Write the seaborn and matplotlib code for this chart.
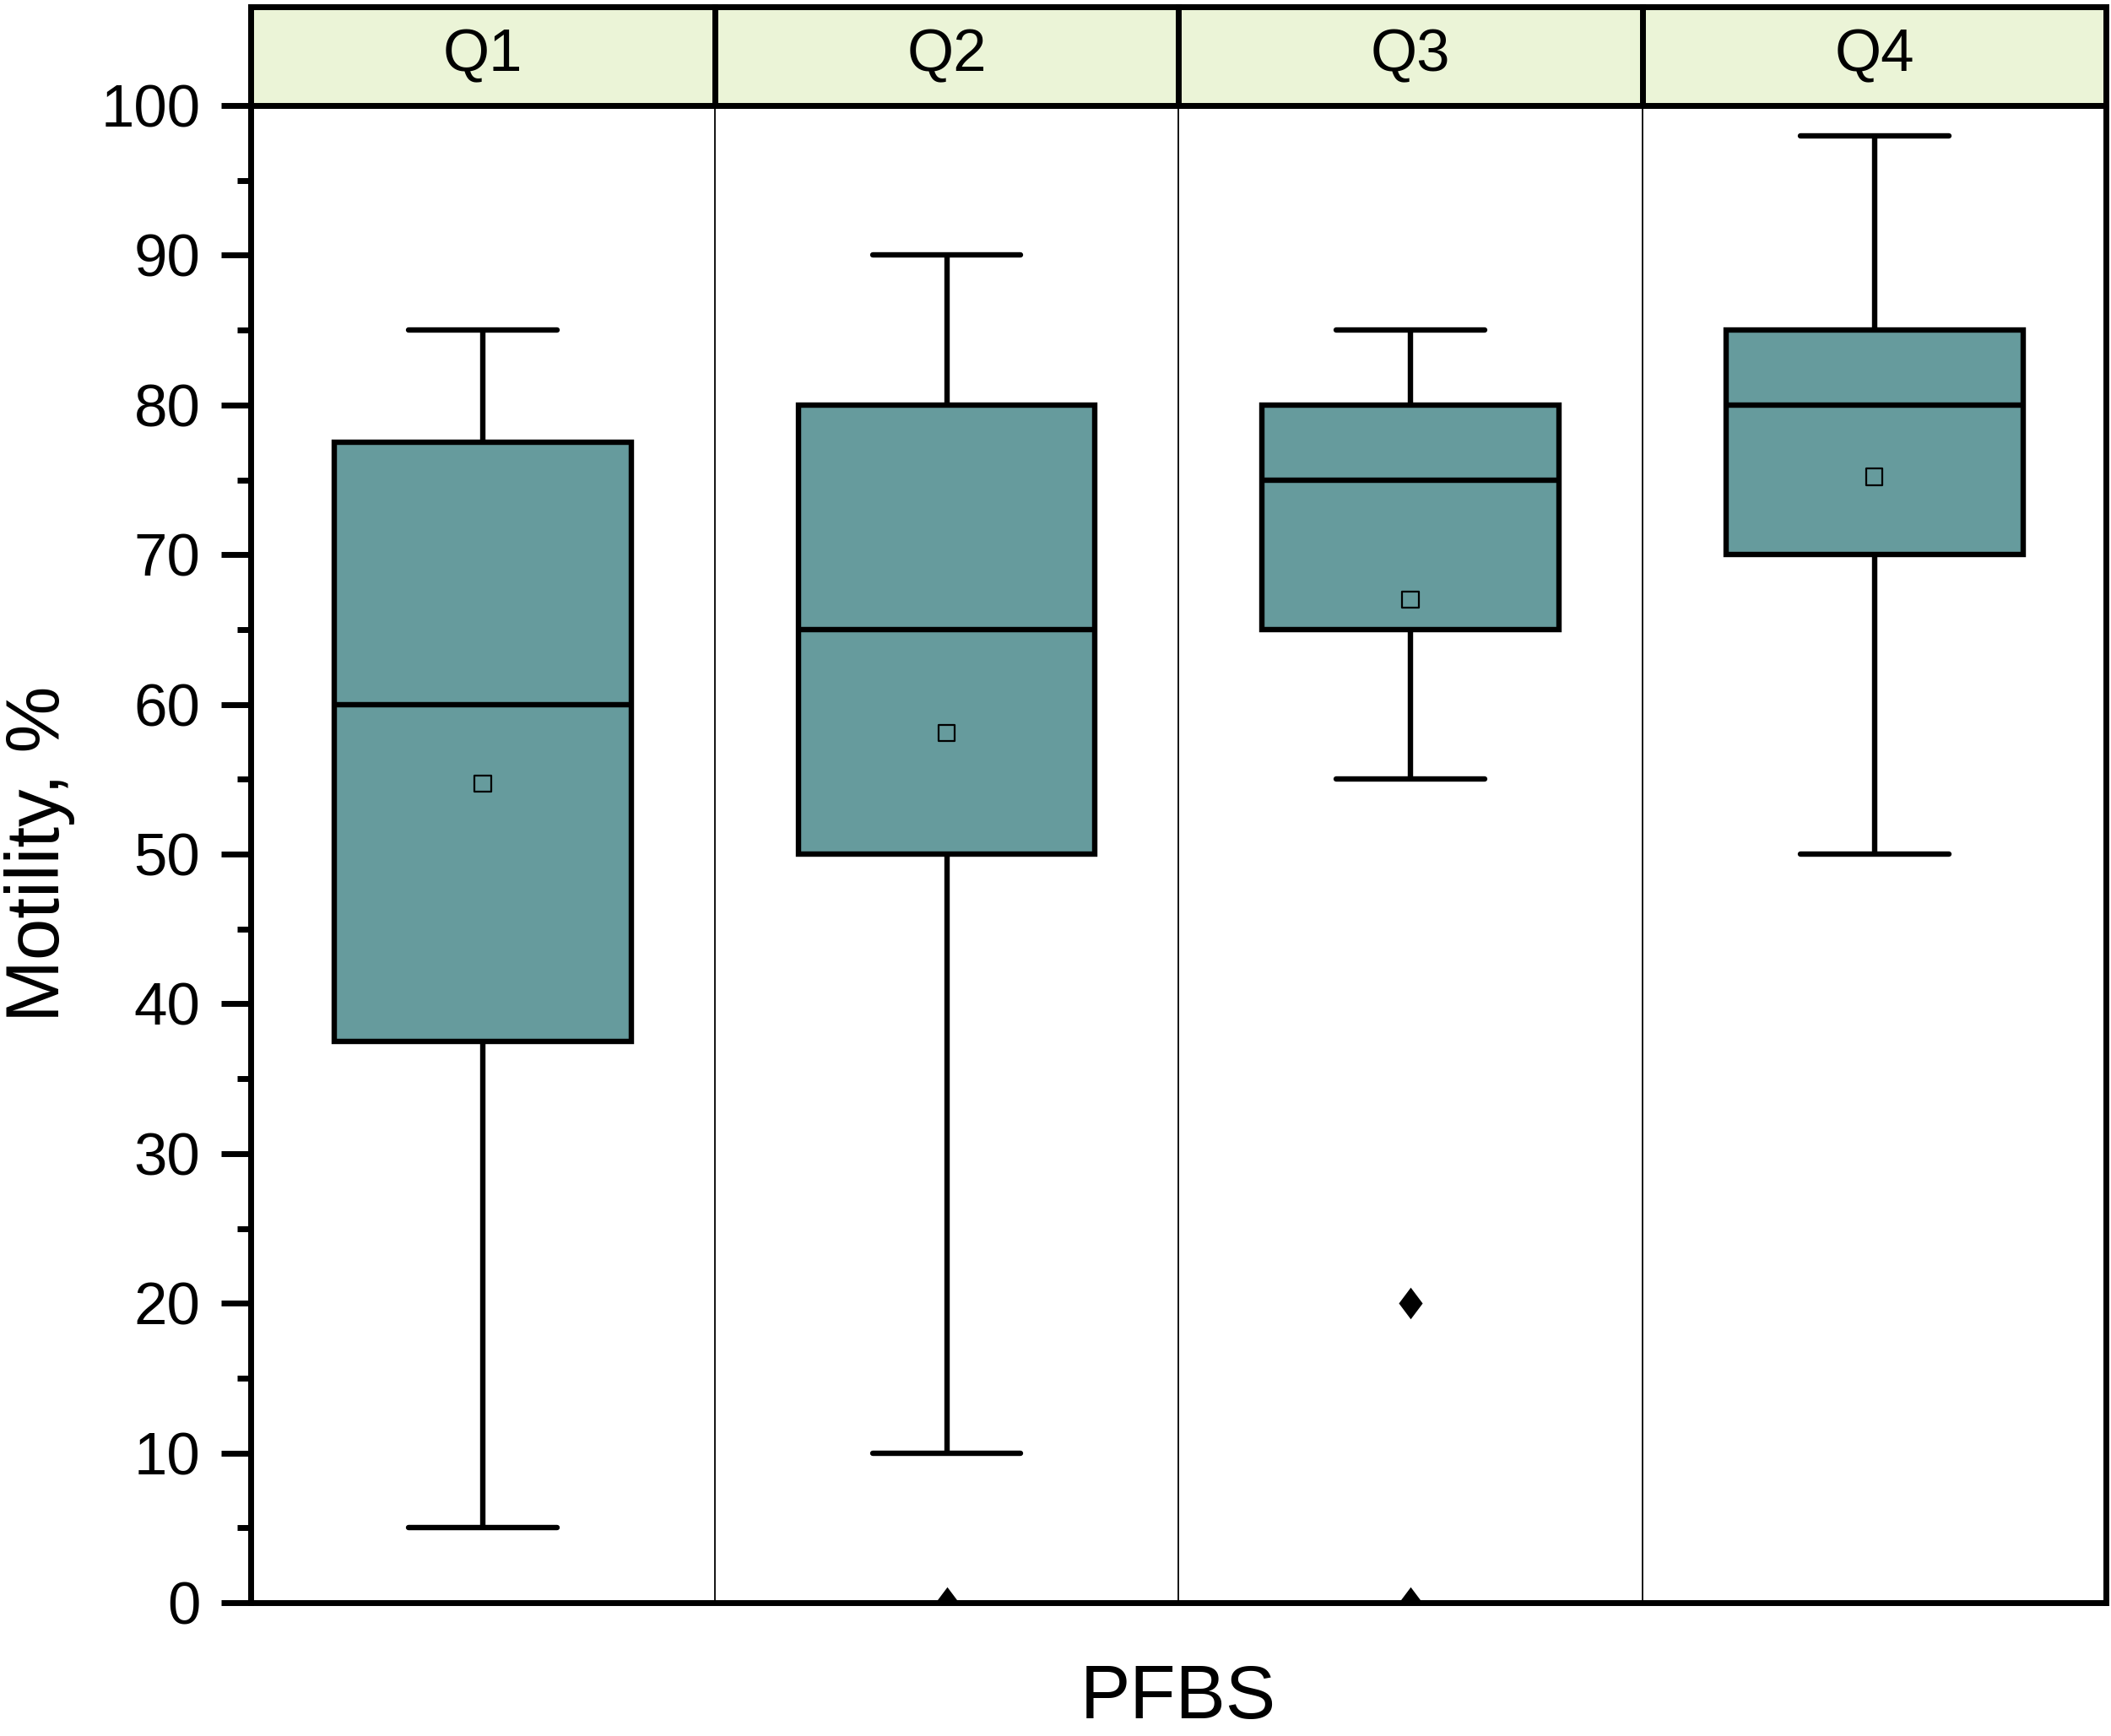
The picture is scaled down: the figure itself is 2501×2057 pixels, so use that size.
import numpy as np
import pandas as pd
import seaborn as sns
import matplotlib
matplotlib.use('Agg')
import matplotlib.pyplot as plt
from matplotlib.ticker import MultipleLocator

# 数据：每个分组的五数概括
quarters = ['Q1', 'Q2', 'Q3', 'Q4']
whisker_low = [5, 10, 55, 50]
q1_values = [37.5, 50, 65, 70]
medians = [60, 65, 75, 80]
q3_values = [77.5, 80, 80, 85]
whisker_high = [85, 90, 85, 98]
means = [54.7, 58.1, 67.0, 75.2]

# 离群点
outlier_groups = ['Q2', 'Q3', 'Q3']
outlier_values = [0, 20, 0]

box_color = '#669B9D'
header_color = '#EBF4D7'

# 五个分位值作为长表数据，5个点时线性分位数正好落在这些值上
rows = []
for g, lo, a, m, b, hi in zip(quarters, whisker_low, q1_values, medians, q3_values, whisker_high):
    for v in (lo, a, m, b, hi):
        rows.append((g, v))
df = pd.DataFrame(rows, columns=['group', 'value'])

sns.set_style('ticks')
plt.rcParams['font.family'] = ['Liberation Sans', 'DejaVu Sans']
plt.rcParams['text.color'] = 'black'
plt.rcParams['axes.labelcolor'] = 'black'
plt.rcParams['ytick.color'] = 'black'
plt.rcParams['xtick.color'] = 'black'

fig = plt.figure(figsize=(25.01, 20.57), dpi=100)
ax = fig.add_axes([0.1188, 0.0768, 0.879, 0.8624])

sns.boxplot(data=df, x='group', y='value', order=quarters, ax=ax,
            width=0.64, color=box_color, saturation=1, linecolor='black',
            linewidth=4.6, whis=(0, 100), showfliers=False,
            capprops={'solid_capstyle': 'round'})

positions = np.arange(len(quarters))

# 均值：空心方块
ax.scatter(positions, means, marker='s', s=14 ** 2, facecolors='none',
           edgecolors='black', linewidths=1.6, zorder=5)

# 离群点：实心菱形
out_pos = [quarters.index(g) for g in outlier_groups]
diamond = [(0, 1), (0.75, 0), (0, -1), (-0.75, 0)]
ax.scatter(out_pos, outlier_values, marker=diamond, s=27 ** 2,
           color='black', linewidths=0, zorder=5)

# 分面之间的细分隔线
for x in positions[1:] - 0.5:
    ax.axvline(x, color='black', linewidth=1.3, zorder=1)

ax.set_xlim(-0.5, len(quarters) - 0.5)
ax.set_ylim(0, 100)
ax.yaxis.set_major_locator(MultipleLocator(10))
ax.yaxis.set_minor_locator(MultipleLocator(5))
ax.tick_params(axis='y', which='major', length=25, width=5, labelsize=51, pad=18, direction='out')
ax.tick_params(axis='y', which='minor', length=11.5, width=5, direction='out')
ax.tick_params(axis='x', bottom=False, labelbottom=False)
for s in ax.spines.values():
    s.set_visible(True)
    s.set_linewidth(5)
    s.set_color('black')

ax.set_xlabel('PFBS', fontsize=64, labelpad=52)
ax.set_ylabel('Motility, %', fontsize=64, labelpad=22)

# 顶部分组标题条
hax = fig.add_axes([0.1188, 0.9392, 0.879, 0.0569])
hax.bar(positions, [1] * len(quarters), width=1, color=header_color,
        edgecolor='black', linewidth=5, clip_on=False)
for p, q in zip(positions, quarters):
    hax.text(p, 0.5, q, ha='center', va='center', fontsize=51)
hax.set_xlim(-0.5, len(quarters) - 0.5)
hax.set_ylim(0, 1)
hax.axis('off')

fig.savefig('out.png', dpi=100)
